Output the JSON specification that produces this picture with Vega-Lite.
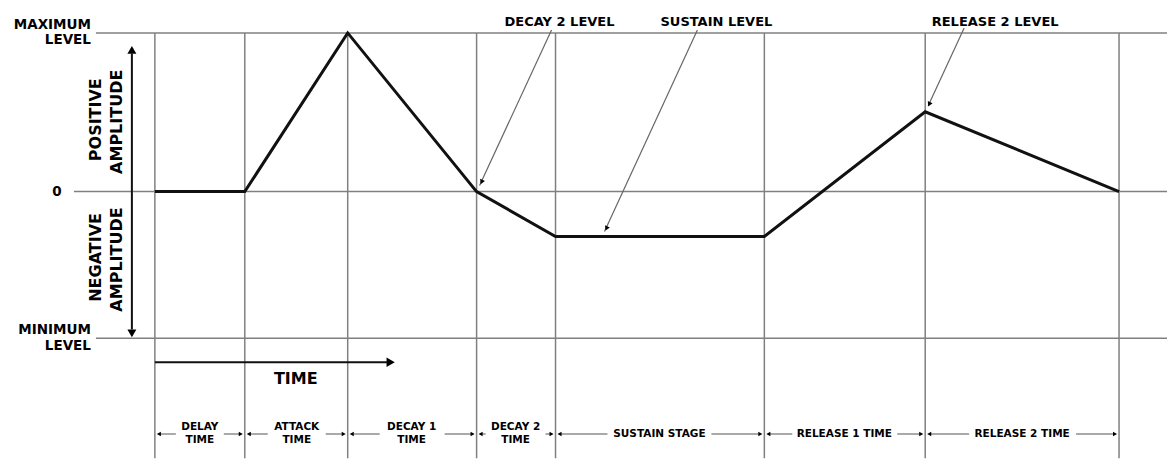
{
  "$schema": "https://vega.github.io/schema/vega-lite/v6.json",
  "width": 1168,
  "height": 459,
  "autosize": {"type": "fit", "contains": "padding"},
  "padding": 0,
  "background": "white",
  "config": {"view": {"stroke": null}, "text": {"font": "DejaVu Sans", "fontWeight": "bold", "color": "black"}},
  "datasets": {
    "grid": [
      {"x": -5.9, "y": 1, "x2": 101.3, "y2": 1},
      {"x": -8.1, "y": 0, "x2": 101.3, "y2": 0},
      {"x": -5.9, "y": -0.925, "x2": 101.3, "y2": -0.925},
      {"x": 0, "y": 1, "x2": 0, "y2": -1.68},
      {"x": 9, "y": 1, "x2": 9, "y2": -1.68},
      {"x": 19.3, "y": 1, "x2": 19.3, "y2": -1.68},
      {"x": 32.2, "y": 1, "x2": 32.2, "y2": -1.68},
      {"x": 40.1, "y": 1, "x2": 40.1, "y2": -1.68},
      {"x": 61, "y": 1, "x2": 61, "y2": -1.68},
      {"x": 77.1, "y": 1, "x2": 77.1, "y2": -1.68},
      {"x": 96.5, "y": 1, "x2": 96.5, "y2": -1.68}
    ],
    "envelope": [
      {"x": 0, "y": 0},
      {"x": 9, "y": 0},
      {"x": 19.3, "y": 1},
      {"x": 32.2, "y": 0},
      {"x": 40.1, "y": -0.283},
      {"x": 61, "y": -0.283},
      {"x": 77.1, "y": 0.503},
      {"x": 96.5, "y": 0}
    ],
    "axisArrows": [
      {"x": -2.3, "y": 0.87, "x2": -2.3, "y2": -0.87},
      {"x": 0, "y": -1.075, "x2": 23.3, "y2": -1.075}
    ],
    "dims": [
      {"x": 0.4, "y": -1.528, "x2": 2.1, "y2": -1.528},
      {"x": 6.9, "y": -1.528, "x2": 8.6, "y2": -1.528},
      {"x": 9.4, "y": -1.528, "x2": 11.3, "y2": -1.528},
      {"x": 17.1, "y": -1.528, "x2": 18.9, "y2": -1.528},
      {"x": 19.7, "y": -1.528, "x2": 22.5, "y2": -1.528},
      {"x": 29.0, "y": -1.528, "x2": 31.8, "y2": -1.528},
      {"x": 32.6, "y": -1.528, "x2": 33.1, "y2": -1.528},
      {"x": 39.1, "y": -1.528, "x2": 39.7, "y2": -1.528},
      {"x": 40.5, "y": -1.528, "x2": 45.3, "y2": -1.528},
      {"x": 55.7, "y": -1.528, "x2": 60.6, "y2": -1.528},
      {"x": 61.4, "y": -1.528, "x2": 63.8, "y2": -1.528},
      {"x": 74.3, "y": -1.528, "x2": 76.7, "y2": -1.528},
      {"x": 77.5, "y": -1.528, "x2": 81.5, "y2": -1.528},
      {"x": 92.2, "y": -1.528, "x2": 96.1, "y2": -1.528}
    ],
    "leaders": [
      {"x": 39.7, "y": 1.019, "x2": 32.5, "y2": 0.038},
      {"x": 54.3, "y": 1.019, "x2": 45.0, "y2": -0.252},
      {"x": 81.0, "y": 1.031, "x2": 77.4, "y2": 0.541}
    ],
    "leaderHeads": [
      {"x": 32.7, "y": 0.06},
      {"x": 45.2, "y": -0.232},
      {"x": 77.5, "y": 0.55}
    ],
    "ampTop": [{"x": -2.3, "y": 0.893}],
    "ampBottom": [{"x": -2.3, "y": -0.893}],
    "timeHead": [{"x": 23.6, "y": -1.075}],
    "dimLeft": [
      {"x": 0.4, "y": -1.528}, {"x": 9.4, "y": -1.528}, {"x": 19.7, "y": -1.528}, {"x": 32.6, "y": -1.528},
      {"x": 40.5, "y": -1.528}, {"x": 61.4, "y": -1.528}, {"x": 77.5, "y": -1.528}
    ],
    "dimRight": [
      {"x": 8.6, "y": -1.528}, {"x": 18.9, "y": -1.528}, {"x": 31.8, "y": -1.528}, {"x": 39.7, "y": -1.528},
      {"x": 60.6, "y": -1.528}, {"x": 76.7, "y": -1.528}, {"x": 96.1, "y": -1.528}
    ],
    "leftLabels": [
      {"x": -6.4, "y": 1.05, "label": "MAXIMUM"},
      {"x": -6.4, "y": 0.956, "label": "LEVEL"},
      {"x": -6.4, "y": -0.874, "label": "MINIMUM"},
      {"x": -6.4, "y": -0.975, "label": "LEVEL"}
    ],
    "zeroLabel": [{"x": -9.8, "y": 0, "label": "0"}],
    "ampLabels": [
      {"x": -5.9, "y": 0.453, "label": "POSITIVE"},
      {"x": -3.8, "y": 0.44, "label": "AMPLITUDE"},
      {"x": -5.9, "y": -0.415, "label": "NEGATIVE"},
      {"x": -3.8, "y": -0.428, "label": "AMPLITUDE"}
    ],
    "timeLabel": [{"x": 14.1, "y": -1.182, "label": "TIME"}],
    "topLabels": [
      {"x": 40.5, "y": 1.071, "label": "DECAY 2 LEVEL"},
      {"x": 56.2, "y": 1.071, "label": "SUSTAIN LEVEL"},
      {"x": 84.1, "y": 1.071, "label": "RELEASE 2 LEVEL"}
    ],
    "stageLabels": [
      {"x": 4.5, "y": -1.484, "label": "DELAY"},
      {"x": 4.5, "y": -1.566, "label": "TIME"},
      {"x": 14.2, "y": -1.484, "label": "ATTACK"},
      {"x": 14.2, "y": -1.566, "label": "TIME"},
      {"x": 25.7, "y": -1.484, "label": "DECAY 1"},
      {"x": 25.7, "y": -1.566, "label": "TIME"},
      {"x": 36.1, "y": -1.484, "label": "DECAY 2"},
      {"x": 36.1, "y": -1.566, "label": "TIME"},
      {"x": 50.5, "y": -1.528, "label": "SUSTAIN STAGE"},
      {"x": 69.0, "y": -1.528, "label": "RELEASE 1 TIME"},
      {"x": 86.8, "y": -1.528, "label": "RELEASE 2 TIME"}
    ]
  },
  "encoding": {
    "x": {"field": "x", "type": "quantitative", "scale": {"domain": [-15.5, 101.3], "nice": false, "zero": false}, "axis": null},
    "y": {"field": "y", "type": "quantitative", "scale": {"domain": [-1.6792, 1.2075], "nice": false, "zero": false}, "axis": null}
  },
  "layer": [
    {
      "data": {"name": "grid"},
      "mark": {"type": "rule", "color": "#808080", "strokeWidth": 1.5},
      "encoding": {"x2": {"field": "x2"}, "y2": {"field": "y2"}}
    },
    {
      "data": {"name": "dims"},
      "mark": {"type": "rule", "color": "#555555", "strokeWidth": 1},
      "encoding": {"x2": {"field": "x2"}, "y2": {"field": "y2"}}
    },
    {
      "data": {"name": "leaders"},
      "mark": {"type": "rule", "color": "#666666", "strokeWidth": 1.2},
      "encoding": {"x2": {"field": "x2"}, "y2": {"field": "y2"}}
    },
    {
      "data": {"name": "axisArrows"},
      "mark": {"type": "rule", "color": "#111111", "strokeWidth": 2},
      "encoding": {"x2": {"field": "x2"}, "y2": {"field": "y2"}}
    },
    {
      "data": {"name": "envelope"},
      "mark": {"type": "line", "color": "#111111", "strokeWidth": 3, "strokeJoin": "miter"},
      "encoding": {}
    },
    {
      "data": {"name": "ampTop"},
      "mark": {"type": "point", "shape": "triangle-up", "filled": true, "color": "black", "size": 80, "opacity": 1}
    },
    {
      "data": {"name": "ampBottom"},
      "mark": {"type": "point", "shape": "triangle-down", "filled": true, "color": "black", "size": 80, "opacity": 1}
    },
    {
      "data": {"name": "timeHead"},
      "mark": {"type": "point", "shape": "triangle-right", "filled": true, "color": "black", "size": 90, "opacity": 1}
    },
    {
      "data": {"name": "dimLeft"},
      "mark": {"type": "point", "shape": "triangle-left", "filled": true, "color": "black", "size": 22, "opacity": 1}
    },
    {
      "data": {"name": "dimRight"},
      "mark": {"type": "point", "shape": "triangle-right", "filled": true, "color": "black", "size": 22, "opacity": 1}
    },
    {
      "data": {"name": "leaderHeads"},
      "mark": {"type": "point", "shape": "triangle-up", "filled": true, "color": "black", "size": 28, "angle": 205, "opacity": 1}
    },
    {
      "data": {"name": "leftLabels"},
      "mark": {"type": "text", "align": "right", "baseline": "middle", "fontSize": 13.5},
      "encoding": {"text": {"field": "label"}}
    },
    {
      "data": {"name": "zeroLabel"},
      "mark": {"type": "text", "align": "center", "baseline": "middle", "fontSize": 13.5},
      "encoding": {"text": {"field": "label"}}
    },
    {
      "data": {"name": "ampLabels"},
      "mark": {"type": "text", "align": "center", "baseline": "middle", "fontSize": 16, "angle": 270},
      "encoding": {"text": {"field": "label"}}
    },
    {
      "data": {"name": "timeLabel"},
      "mark": {"type": "text", "align": "center", "baseline": "middle", "fontSize": 16},
      "encoding": {"text": {"field": "label"}}
    },
    {
      "data": {"name": "topLabels"},
      "mark": {"type": "text", "align": "center", "baseline": "middle", "fontSize": 13},
      "encoding": {"text": {"field": "label"}}
    },
    {
      "data": {"name": "stageLabels"},
      "mark": {"type": "text", "align": "center", "baseline": "middle", "fontSize": 10.5},
      "encoding": {"text": {"field": "label"}}
    }
  ]
}
